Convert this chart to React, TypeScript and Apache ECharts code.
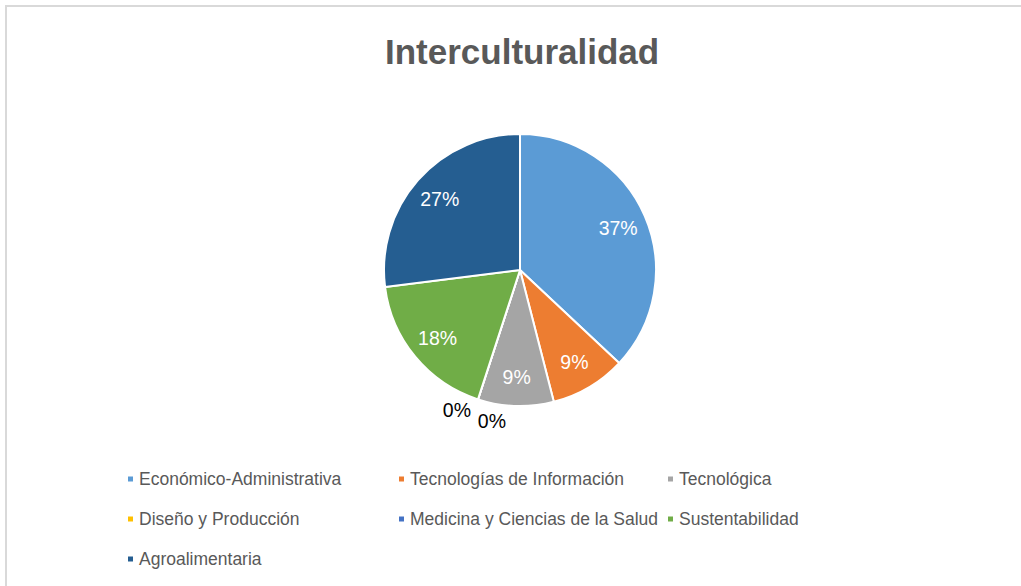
import React, { useEffect, useRef } from "react";
import * as echarts from "echarts";

const categories = [
  "Económico-Administrativa",
  "Tecnologías de Información",
  "Tecnológica",
  "Diseño y Producción",
  "Medicina y Ciencias de la Salud",
  "Sustentabilidad",
  "Agroalimentaria",
];
const values = [37, 9, 9, 0, 0, 18, 27];
const colors = ["#5B9BD5", "#ED7D31", "#A5A5A5", "#FFC000", "#4472C4", "#70AD47", "#255E91"];
const legendCol1 = ["Económico-Administrativa", "Diseño y Producción", "Agroalimentaria"];
const legendCol2 = ["Tecnologías de Información", "Medicina y Ciencias de la Salud"];
const legendCol3 = ["Tecnológica", "Sustentabilidad"];

const FONT = "'Liberation Sans', Arial, sans-serif";

export default function App() {
  const ref = useRef<HTMLDivElement>(null);
  useEffect(() => {
    if (!ref.current) return;
    const chart = echarts.init(ref.current, null, { renderer: "svg" });
    const legendBase = {
      orient: "vertical" as const,
      top: 465,
      itemWidth: 7,
      itemHeight: 7,
      itemGap: 22,
      icon: "rect",
      textStyle: { fontFamily: FONT, fontSize: 17.5, color: "#595959" },
      selectedMode: false,
    };
    const data = categories.map((name, i) => ({
      name,
      value: values[i],
      itemStyle: { color: colors[i] },
    }));
    chart.setOption({
      animation: false,
      backgroundColor: "#ffffff",
      title: {
        text: "Interculturalidad",
        left: 380,
        top: 29,
        textStyle: { fontFamily: FONT, fontSize: 35, fontWeight: "bold", color: "#595959" },
      },
      graphic: [
        {
          type: "rect",
          shape: { x: 6, y: 6, width: 1040, height: 620 },
          style: { fill: "none", stroke: "#d9d9d9", lineWidth: 2 },
          silent: true,
        },
      ],
      legend: [
        { ...legendBase, left: 121, data: legendCol1 },
        { ...legendBase, left: 392, data: legendCol2 },
        { ...legendBase, left: 661, data: legendCol3 },
      ],
      series: [
        {
          type: "pie",
          center: [520, 270],
          radius: [0, 136],
          startAngle: 90,
          clockwise: true,
          avoidLabelOverlap: false,
          itemStyle: { borderColor: "#ffffff", borderWidth: 2 },
          label: { show: false },
          labelLine: { show: false },
          emphasis: { disabled: true },
          data,
        },
        {
          type: "pie",
          center: [520, 270],
          radius: [72, 136],
          startAngle: 90,
          clockwise: true,
          silent: true,
          avoidLabelOverlap: false,
          itemStyle: { color: "transparent", opacity: 0 },
          label: {
            show: true,
            position: "inside",
            formatter: "{c}%",
            fontFamily: FONT,
            fontSize: 19.5,
            color: "#ffffff",
            opacity: 1,
          },
          labelLine: { show: false },
          emphasis: { disabled: true },
          labelLayout: (p: any) => {
            if (p.dataIndex === 3) return { dx: -30, dy: 38 };
            if (p.dataIndex === 4) return { dx: 5, dy: 49 };
            return {};
          },
          data: categories.map((name, i) => ({
            name,
            value: values[i],
            itemStyle: { opacity: 0 },
            label: values[i] === 0 ? { color: "#000000", opacity: 1 } : { opacity: 1 },
          })),
        },
      ],
    });
    return () => chart.dispose();
  }, []);
  return (
    <div
      ref={ref}
      style={{ position: "absolute", left: 0, top: 0, width: 1021, height: 586 }}
    />
  );
}
